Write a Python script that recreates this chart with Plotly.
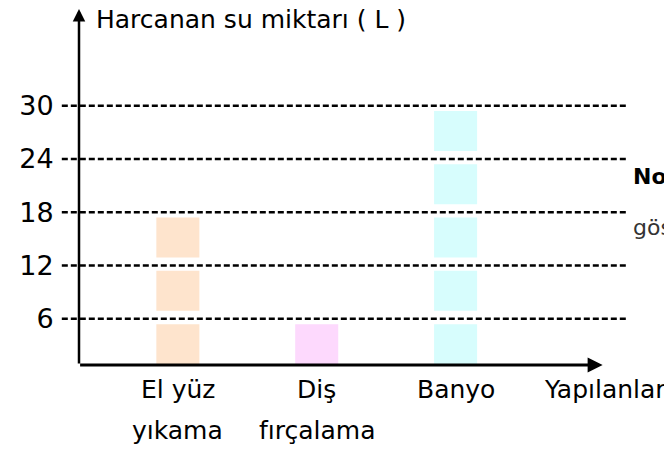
import plotly.graph_objects as go

cat_line1 = ["El yüz", "Diş", "Banyo"]
cat_line2 = ["yıkama", "fırçalama", ""]
categories = [a + " " + b if b else a for a, b in zip(cat_line1, cat_line2)]
values = [18, 6, 30]          # litres of water used
unit = 6                      # each block = 6 L
tick_vals = [6, 12, 18, 24, 30]
colors = ["#FEE4CD", "#FDD9FD", "#D7FDFD"]

FONT = "DejaVu Sans"
fig = go.Figure()

for cat, v, c in zip(categories, values, colors):
    n = v // unit
    fig.add_trace(go.Bar(
        x=[cat] * n,
        base=[i * unit + 0.9 for i in range(n)],
        y=[unit * 0.75] * n,
        marker=dict(color=c, line=dict(width=0)),
        width=0.31,
        hoverinfo="skip",
        showlegend=False,
    ))

# dashed horizontal reference lines
for t in tick_vals:
    fig.add_shape(type="line", xref="paper", yref="y",
                  x0=-0.033, x1=1.054, y0=t, y1=t,
                  line=dict(color="black", width=2.5, dash="6px,3px"),
                  layer="above")

# axes with arrows
fig.add_annotation(xref="paper", yref="paper", x=0, y=1, ax=0, ay=357,
                   axref="pixel", ayref="pixel", text="", showarrow=True,
                   arrowhead=2, arrowsize=1, arrowwidth=2.5, arrowcolor="black")
fig.add_annotation(xref="paper", yref="paper", x=1.005, y=0, ax=-524, ay=0,
                   axref="pixel", ayref="pixel", text="", showarrow=True,
                   arrowhead=2, arrowsize=1, arrowwidth=3, arrowcolor="black")

# category labels (two lines)
for cat, l1, l2 in zip(categories, cat_line1, cat_line2):
    fig.add_annotation(xref="x", yref="paper", x=cat, y=0, yanchor="middle",
                       yshift=-24, text=l1, showarrow=False,
                       font=dict(family=FONT, size=25, color="black"))
    if l2:
        fig.add_annotation(xref="x", yref="paper", x=cat, y=0, yanchor="middle",
                           yshift=-65, text=l2, showarrow=False,
                           font=dict(family=FONT, size=25, color="black"))

fig.add_annotation(xref="paper", yref="paper", x=0.029, y=1.0, xanchor="left",
                   yanchor="middle", yshift=-11, text="Harcanan su miktarı ( L )",
                   showarrow=False, font=dict(family=FONT, size=25, color="black"))
fig.add_annotation(xref="paper", yref="paper", x=0.889, y=0, xanchor="left",
                   yanchor="middle", yshift=-24, text="Yapılanlar",
                   showarrow=False, font=dict(family=FONT, size=25, color="black"))
fig.add_annotation(xref="paper", yref="paper", x=1.06, y=0.528, xanchor="left",
                   yanchor="middle", text="<b>Not</b>",
                   showarrow=False, font=dict(family=FONT, size=22, color="black"))
fig.add_annotation(xref="paper", yref="paper", x=1.06, y=0.385, xanchor="left",
                   yanchor="middle", text="gös",
                   showarrow=False, font=dict(family=FONT, size=22, color="#333333"))

# page body has an 8px margin, so the figure is 8px smaller than the window
fig.update_layout(
    width=664, height=446,
    margin=dict(l=71, r=72, t=0, b=89),
    plot_bgcolor="white", paper_bgcolor="white",
    barmode="overlay",
    font=dict(family=FONT, size=25, color="black"),
    xaxis=dict(range=[-0.712, 3.04], showgrid=False, zeroline=False,
               showline=False, ticks="", showticklabels=False, automargin=False,
               categoryorder="array", categoryarray=categories),
    yaxis=dict(range=[0.8, 41], tickvals=tick_vals, showgrid=False,
               zeroline=False, showline=False, ticks="outside", ticklen=19,
               tickcolor="rgba(0,0,0,0)", tickfont=dict(size=27),
               automargin=False),
)

fig.write_html("out.html")
